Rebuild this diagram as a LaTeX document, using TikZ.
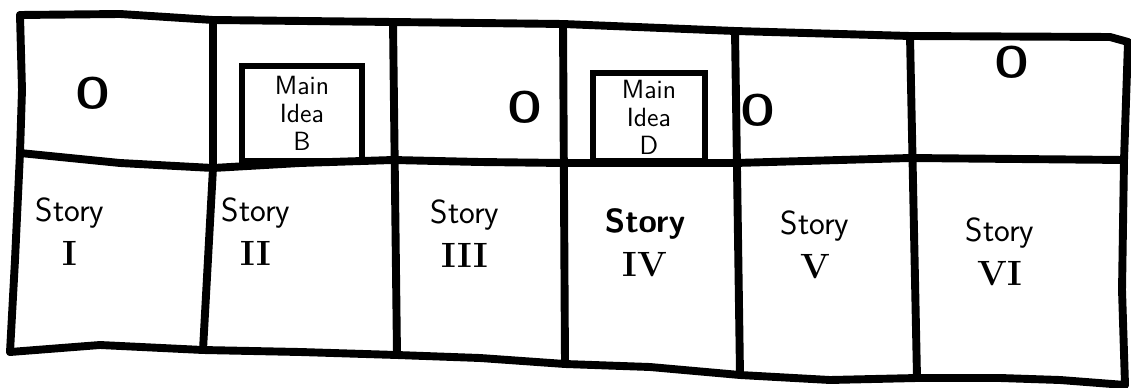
\documentclass[tikz,border=0pt]{standalone}
\usepackage{fontspec}
\usepackage{tikz}
\usetikzlibrary{positioning}
\tikzset{
  gridline/.style={line width=4.5pt, line cap=round, line join=round},
  ideabox/.style={draw, line width=3.2pt, align=center, inner sep=2pt, font=\sffamily\fontsize{15}{16}\selectfont},
  omark/.style={font=\sffamily\bfseries\fontsize{25}{25}\selectfont, inner sep=0pt},
  storytext/.style={align=center, font=\sffamily\fontsize{19}{25}\selectfont}
}
\newcommand{\romnum}[1]{{\rmfamily\bfseries\fontsize{20}{20}\selectfont #1}}

\begin{document}
\begin{tikzpicture}[x=0.02cm, y=-0.02cm]
  \useasboundingbox (0,0) rectangle (1131,388);

  % corners and column tops / bottoms
  \coordinate (tl) at (20,15);
  \coordinate (tr) at (1128,42);
  \coordinate (ml) at (20,153);
  \coordinate (mr) at (1124,160);
  \coordinate (bl) at (10,352);
  \coordinate (br) at (1125,385);
  \coordinate (t1) at (213,20);   \coordinate (m1) at (213,168); \coordinate (b1) at (203,350);
  \coordinate (t2) at (393,22);   \coordinate (b2) at (397,355);
  \coordinate (t3) at (563,24);   \coordinate (b3) at (565,364);
  \coordinate (t4) at (735,31);   \coordinate (b4) at (740,375);
  \coordinate (t5) at (910,36);   \coordinate (b5) at (917,378);

  % frame
  \draw[gridline] (tl) -- (120,14) -- (t1) -- (t2) -- (t3) -- (t4) -- (t5) -- (1110,37) -- (tr);
  \draw[gridline] (tl) -- (22,90) -- (ml) -- (15,260) -- (bl);
  \draw[gridline] (tr) -- (mr) -- (1122,290) -- (br);
  \draw[gridline] (bl) -- (100,345) -- (b1) -- (300,352) -- (b2) -- (480,358) -- (b3)
    -- (650,367) -- (b4) -- (830,380) -- (b5) -- (1000,378) -- (1060,380) -- (br);
  \draw[gridline] (ml) -- (120,163) -- (m1) -- (300,163) -- (393,160) -- (480,162)
    -- (563,163) -- (735,163) -- (910,158) -- (mr);

  % column dividers
  \draw[gridline] (t1) -- (m1) -- (b1);
  \draw[gridline] (t2) -- (b2);
  \draw[gridline] (t3) -- (b3);
  \draw[gridline] (t4) -- (b4);
  \draw[gridline] (t5) -- (b5);

  % top row
  \node[omark] (o1) at (93,93) {O};
  \node[ideabox, minimum width=2.4cm, minimum height=1.9cm, anchor=south] (ideaB) at (302,164) {Main\\Idea\\B};
  \node[omark] (o3) at (525,107) {O};
  \node[ideabox, minimum width=2.24cm, minimum height=1.76cm, anchor=south] (ideaD) at (649,164) {Main\\Idea\\D};
  \node[omark] (o5) at (758,110) {O};
  \node[omark] (o6) at (1012,62) {O};

  % bottom row
  \node[storytext] (s1) at (70,232) {Story\\\romnum{I}};
  \node[storytext] (s2) at (256,232) {Story\\\romnum{II}};
  \node[storytext] (s3) at (465,234) {Story\\\romnum{III}};
  \node[storytext] (s4) at (645,243) {\bfseries Story\\\romnum{IV}};
  \node[storytext] (s5) at (815,245) {Story\\\romnum{V}};
  \node[storytext] (s6) at (1000,252) {Story\\\romnum{VI}};
\end{tikzpicture}
\end{document}
